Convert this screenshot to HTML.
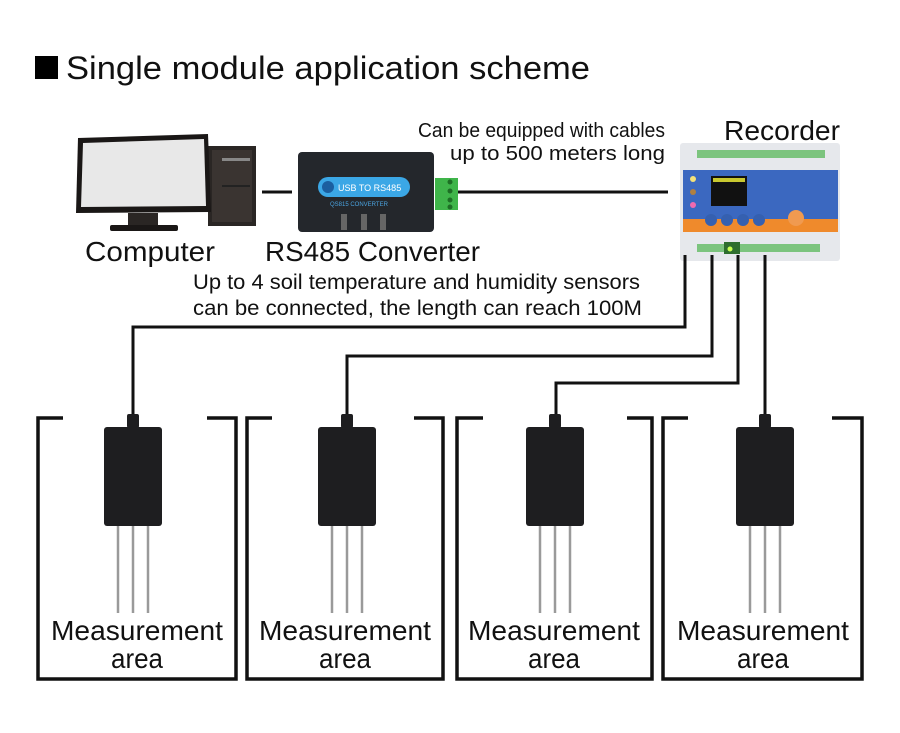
<!DOCTYPE html>
<html><head><meta charset="utf-8"><style>
html,body{margin:0;padding:0;background:#fff;}
svg{display:block;}
text{font-family:"Liberation Sans",sans-serif;fill:#111;}
</style></head><body>
<svg width="900" height="733" viewBox="0 0 900 733" xmlns="http://www.w3.org/2000/svg">
<rect x="35" y="56" width="23" height="23" fill="#000"/>
<text x="66" y="79" font-size="32" textLength="524" lengthAdjust="spacingAndGlyphs">Single module application scheme</text>

<!-- Computer -->
<rect x="208" y="146" width="48" height="80" fill="#2a2624"/>
<rect x="212" y="150" width="40" height="72" fill="#3a3431"/>
<rect x="222" y="158" width="28" height="3" fill="#888"/>
<rect x="222" y="185" width="28" height="2" fill="#222"/>
<polygon points="78,138 208,134 211,212 76,213" fill="#1a1716"/>
<polygon points="83,143 204,139 206,206 81,207" fill="#e8e8e8"/>
<rect x="128" y="213" width="30" height="14" fill="#2a2624"/>
<rect x="110" y="225" width="68" height="6" rx="2" fill="#1a1716"/>

<line x1="262" y1="192" x2="292" y2="192" stroke="#111" stroke-width="3"/>

<!-- Converter -->
<rect x="298" y="152" width="136" height="80" rx="4" fill="#24272c"/>
<rect x="318" y="177" width="92" height="20" rx="10" fill="#3ba7e6"/>
<circle cx="328" cy="187" r="6" fill="#1b5fa0"/>
<text x="338" y="191" font-size="9" style="fill:#fff">USB TO RS485</text>
<text x="330" y="206" font-size="6" style="fill:#4aa3e0">QS815 CONVERTER</text>
<rect x="341" y="214" width="6" height="16" fill="#666"/>
<rect x="361" y="214" width="6" height="16" fill="#666"/>
<rect x="380" y="214" width="6" height="16" fill="#666"/>
<rect x="435" y="178" width="23" height="32" fill="#3fb54a"/>
<circle cx="450" cy="182" r="2.5" fill="#1d6e25"/><circle cx="450" cy="191" r="2.5" fill="#1d6e25"/><circle cx="450" cy="200" r="2.5" fill="#1d6e25"/><circle cx="450" cy="207" r="2.5" fill="#1d6e25"/>

<line x1="458" y1="192" x2="668" y2="192" stroke="#111" stroke-width="3"/>

<!-- Recorder -->
<rect x="680" y="143" width="160" height="118" rx="3" fill="#e6e8ec"/>
<rect x="697" y="150" width="128" height="8" fill="#7cc47e"/>
<rect x="683" y="170" width="155" height="52" fill="#3b68c0"/>
<rect x="683" y="219" width="155" height="13" fill="#ef8a2c"/>
<rect x="711" y="176" width="36" height="30" fill="#111"/>
<rect x="713" y="178" width="32" height="4" fill="#c8c830"/>
<circle cx="693" cy="179" r="3" fill="#f4e27a"/>
<circle cx="693" cy="192" r="3" fill="#b08040"/>
<circle cx="693" cy="205" r="3" fill="#f06ab0"/>
<circle cx="711" cy="220" r="6" fill="#3560b0"/><circle cx="727" cy="220" r="6" fill="#3560b0"/><circle cx="743" cy="220" r="6" fill="#3560b0"/><circle cx="759" cy="220" r="6" fill="#3560b0"/>
<circle cx="796" cy="218" r="8" fill="#f09a50"/>
<rect x="697" y="244" width="123" height="8" fill="#7cc47e"/>
<rect x="724" y="242" width="16" height="12" fill="#2e6e2e"/>
<circle cx="730" cy="249" r="2.5" fill="#c8ff50"/>

<text x="418" y="137" font-size="20" textLength="247" lengthAdjust="spacingAndGlyphs">Can be equipped with cables</text>
<text x="450" y="160" font-size="20" textLength="215" lengthAdjust="spacingAndGlyphs">up to 500 meters long</text>
<text x="724" y="140" font-size="28" textLength="116" lengthAdjust="spacingAndGlyphs">Recorder</text>
<text x="85" y="261" font-size="28" textLength="130" lengthAdjust="spacingAndGlyphs">Computer</text>
<text x="265" y="261" font-size="28" textLength="215" lengthAdjust="spacingAndGlyphs">RS485 Converter</text>
<text x="193" y="289" font-size="21" textLength="447" lengthAdjust="spacingAndGlyphs">Up to 4 soil temperature and humidity sensors</text>
<text x="193" y="315" font-size="21" textLength="449" lengthAdjust="spacingAndGlyphs">can be connected, the length can reach 100M</text>

<!-- cables -->
<g fill="none" stroke="#111" stroke-width="3">
<polyline points="685,255 685,327 133,327 133,417"/>
<polyline points="712,255 712,356 347,356 347,417"/>
<polyline points="738,255 738,383 556,383 556,417"/>
<polyline points="765,255 765,417"/>
</g>

<!-- boxes -->
<g fill="none" stroke="#111" stroke-width="3.5">
<polyline points="63,418 38,418 38,679 236,679 236,418 207,418"/>
<polyline points="272,418 247,418 247,679 443,679 443,418 414,418"/>
<polyline points="483,418 457,418 457,679 652,679 652,418 627,418"/>
<polyline points="688,418 663,418 663,679 862,679 862,418 832,418"/>
</g>

<!-- sensors -->
<g id="s">
<rect x="104" y="427" width="58" height="99" rx="3" fill="#1e1e20"/>
<rect x="127" y="414" width="12" height="14" rx="2" fill="#1e1e20"/>
<g stroke="#9a9a9a" stroke-width="2.5"><line x1="118" y1="526" x2="118" y2="613"/><line x1="133" y1="526" x2="133" y2="613"/><line x1="148" y1="526" x2="148" y2="613"/></g>
</g>
<use href="#s" x="214"/>
<use href="#s" x="422"/>
<use href="#s" x="632"/>

<g font-size="28">
<text x="51" y="640" textLength="172" lengthAdjust="spacingAndGlyphs">Measurement</text><text x="111" y="668" textLength="52" lengthAdjust="spacingAndGlyphs">area</text>
<text x="259" y="640" textLength="172" lengthAdjust="spacingAndGlyphs">Measurement</text><text x="319" y="668" textLength="52" lengthAdjust="spacingAndGlyphs">area</text>
<text x="468" y="640" textLength="172" lengthAdjust="spacingAndGlyphs">Measurement</text><text x="528" y="668" textLength="52" lengthAdjust="spacingAndGlyphs">area</text>
<text x="677" y="640" textLength="172" lengthAdjust="spacingAndGlyphs">Measurement</text><text x="737" y="668" textLength="52" lengthAdjust="spacingAndGlyphs">area</text>
</g>
</svg>
</body></html>
